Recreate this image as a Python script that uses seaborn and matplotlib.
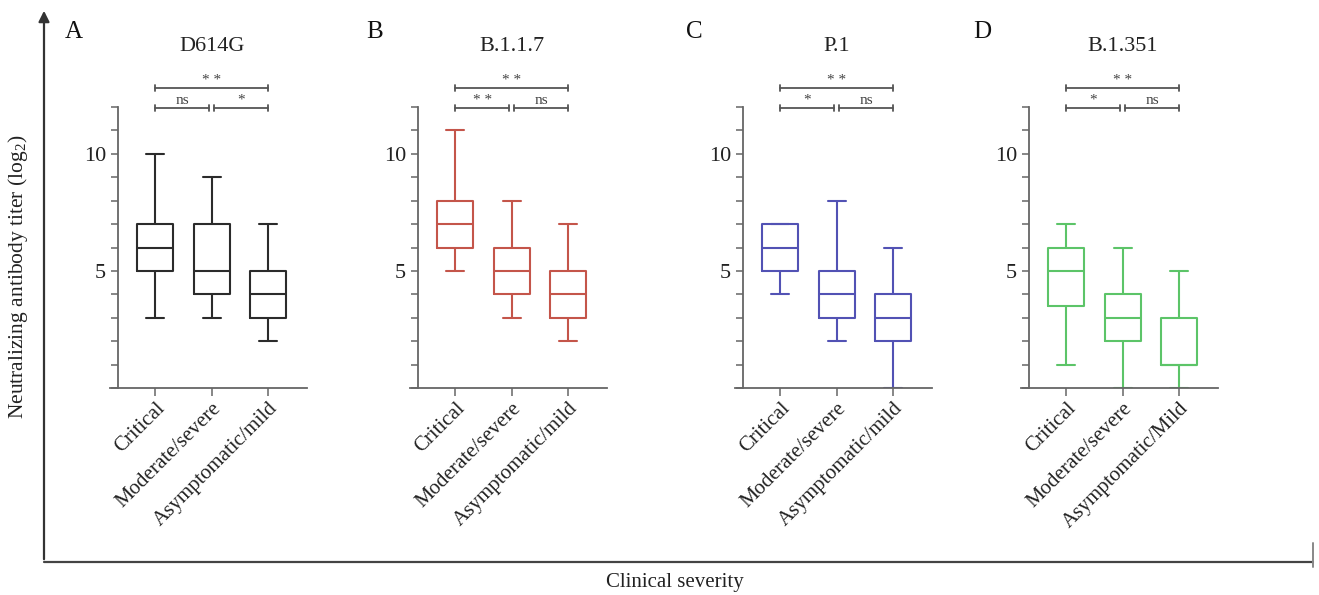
import matplotlib
matplotlib.use('Agg')
import matplotlib.pyplot as plt
from matplotlib.ticker import MultipleLocator, NullFormatter
import pandas as pd
import seaborn as sns


# Grupos de gravidade clínica (eixo x de cada painel)
grupos = ['Critical', 'Moderate/severe', 'Asymptomatic/mild']
grupos_d = ['Critical', 'Moderate/severe', 'Asymptomatic/Mild']

# Resumo de cinco números: mínimo, Q1, mediana, Q3, máximo (log2)
d614g_critical = [3, 5, 6, 7, 10]
d614g_moderate = [3, 4, 5, 7, 9]
d614g_mild = [2, 3, 4, 5, 7]

b117_critical = [5, 6, 7, 8, 11]
b117_moderate = [3, 4, 5, 6, 8]
b117_mild = [2, 3, 4, 5, 7]

p1_critical = [4, 5, 6, 7, 7]
p1_moderate = [2, 3, 4, 5, 8]
p1_mild = [0, 2, 3, 4, 6]

b1351_critical = [1, 3.5, 5, 6, 7]
b1351_moderate = [0, 2, 3, 4, 6]
b1351_mild = [0, 1, 1, 3, 5]

# Significância: (crit x mod, mod x mild, crit x mild)
sig_d614g = ['ns', '*', '* *']
sig_b117 = ['* *', 'ns', '* *']
sig_p1 = ['*', 'ns', '* *']
sig_b1351 = ['*', 'ns', '* *']

variantes = ['D614G', 'B.1.1.7', 'P.1', 'B.1.351']
letras = ['A', 'B', 'C', 'D']
cores = ['#2b2b2b', '#c4554a', '#5252b4', '#5cc468']


def monta_df(valores, nomes):
    linhas = []
    for nome, vals in zip(nomes, valores):
        for v in vals:
            linhas.append({'grupo': nome, 'titulo': v})
    return pd.DataFrame(linhas)


paineis = [
    monta_df([d614g_critical, d614g_moderate, d614g_mild], grupos),
    monta_df([b117_critical, b117_moderate, b117_mild], grupos),
    monta_df([p1_critical, p1_moderate, p1_mild], grupos),
    monta_df([b1351_critical, b1351_moderate, b1351_mild], grupos_d),
]
ordens = [grupos, grupos, grupos, grupos_d]
sigs = [sig_d614g, sig_b117, sig_p1, sig_b1351]

sns.set_style('ticks')
plt.rcParams['font.family'] = ['Liberation Serif', 'DejaVu Serif']

W, H = 1319, 595
fig = plt.figure(figsize=(W / 100, H / 100), dpi=100)

# Moldura externa com seta no eixo y
bg = fig.add_axes([0, 0, 1, 1], zorder=-1)
bg.set_xlim(0, W)
bg.set_ylim(H, 0)
bg.axis('off')
bg.annotate('', xy=(44, 8), xytext=(44, 562),
            arrowprops=dict(arrowstyle='-|>', lw=1.6, color='#333333', mutation_scale=16))
bg.plot([44, 1313], [562, 562], color='#444444', lw=1.6)
bg.plot([1313, 1313], [543, 567], color='#888888', lw=1.4)
bg.text(18, 277, r'Neutralizing antibody titer (log$_\mathregular{2}$)', rotation=90,
        ha='center', va='center', fontsize=15.5, color='#222222')
bg.text(675, 582, 'Clinical severity', ha='center', va='center', fontsize=15, color='#222222')

lefts = [110, 410, 735, 1021]
letra_x = [74, 375, 694, 982]

for i, df in enumerate(paineis):
    ax = fig.add_axes([lefts[i] / W, (H - 388) / H, 197 / W, 281 / H])
    sns.boxplot(data=df, x='grupo', y='titulo', order=ordens[i], fill=False,
                color=cores[i], linewidth=1.5, width=0.64, whis=(0, 100),
                showfliers=False, ax=ax)
    ax.set_xlim(-0.8, 2.69)
    ax.set_ylim(0, 12)
    ax.set_xlabel('')
    ax.set_ylabel('')

    for lado in ['top', 'right']:
        ax.spines[lado].set_visible(False)
    ax.spines['left'].set_position(('data', -0.65))
    ax.spines['left'].set_bounds(0, 12)
    for lado in ['left', 'bottom']:
        ax.spines[lado].set_color('#666666')
        ax.spines[lado].set_linewidth(1.3)

    ax.yaxis.set_major_locator(MultipleLocator(5))
    ax.yaxis.set_minor_locator(MultipleLocator(1))
    ax.yaxis.set_minor_formatter(NullFormatter())
    ax.set_yticks([5, 10])
    ax.tick_params(axis='y', which='both', length=5, width=1.1, color='#666666',
                   labelsize=16, labelcolor='#222222', pad=4)
    ax.tick_params(axis='x', length=6, width=1.1, color='#666666',
                   labelsize=15, labelcolor='#222222', pad=2)
    plt.setp(ax.get_xticklabels(), rotation=45, ha='right', va='top', rotation_mode='anchor')

    # Título da variante e letra do painel
    ax.text(1, 14.6, variantes[i], ha='center', va='center', fontsize=16,
            color='#222222', clip_on=False)
    fig.text(letra_x[i] / W, 1 - 32 / H, letras[i], ha='center', va='center',
             fontsize=18, color='#111111')

    # Colchetes de significância
    colchetes = [(0, 0.955, 11.96, sigs[i][0]), (1.045, 2, 11.96, sigs[i][1]),
                 (0, 2, 12.82, sigs[i][2])]
    for x0, x1, y, txt in colchetes:
        ax.plot([x0, x1], [y, y], color='#555555', lw=1.3, clip_on=False)
        ax.plot([x0, x0], [y - 0.12, y + 0.12], color='#555555', lw=1.3, clip_on=False)
        ax.plot([x1, x1], [y - 0.12, y + 0.12], color='#555555', lw=1.3, clip_on=False)
        ax.text((x0 + x1) / 2, y + 0.05, txt, ha='center', va='bottom', fontsize=11,
                color='#444444', clip_on=False)

fig.savefig('out.png', dpi=100)
